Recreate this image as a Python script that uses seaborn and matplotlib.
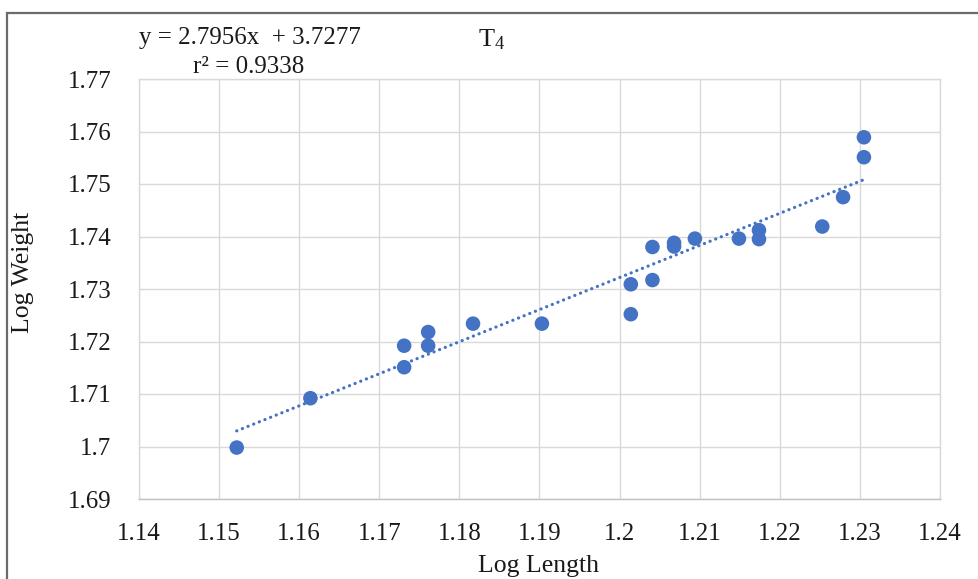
import numpy as np
import pandas as pd
import matplotlib
matplotlib.use("Agg")
import matplotlib.pyplot as plt
from matplotlib.patches import Rectangle
import seaborn as sns

# Log-transformed length / weight measurements (group T4)
log_length = [1.1522, 1.1614, 1.1731, 1.1731, 1.1761, 1.1761, 1.1817, 1.1903,
              1.2014, 1.2014, 1.2041, 1.2041, 1.2068, 1.2068, 1.2094, 1.2149,
              1.2174, 1.2174, 1.2253, 1.2279, 1.2305, 1.2305]
log_weight = [1.6998, 1.7092, 1.7192, 1.7151, 1.7218, 1.7192, 1.7234, 1.7234,
              1.7309, 1.7252, 1.7380, 1.7317, 1.7388, 1.7381, 1.7396, 1.7396,
              1.7412, 1.7395, 1.7419, 1.7475, 1.7589, 1.7551]

x_ticks = [1.14, 1.15, 1.16, 1.17, 1.18, 1.19, 1.20, 1.21, 1.22, 1.23, 1.24]
x_tick_labels = ["1.14", "1.15", "1.16", "1.17", "1.18", "1.19", "1.2", "1.21", "1.22", "1.23", "1.24"]
y_ticks = [1.69, 1.70, 1.71, 1.72, 1.73, 1.74, 1.75, 1.76, 1.77]
y_tick_labels = ["1.69", "1.7", "1.71", "1.72", "1.73", "1.74", "1.75", "1.76", "1.77"]

equation_text = "y = 2.7956x  + 3.7277"
r2_text = "r\u00b2 = 0.9338"
title_text = r"T$_{4}$"

df = pd.DataFrame({"Log Length": log_length, "Log Weight": log_weight})

sns.set_theme(style="whitegrid")
plt.rcParams["font.family"] = ["Liberation Serif", "DejaVu Serif"]
plt.rcParams["mathtext.fontset"] = "custom"
plt.rcParams["mathtext.rm"] = "Liberation Serif"
plt.rcParams["mathtext.it"] = "Liberation Serif"

W, H = 979, 579
fig = plt.figure(figsize=(W / 100, H / 100), dpi=100)
fig.patch.set_facecolor("white")
ax = fig.add_axes([139 / W, 1 - 499 / H, (940 - 139) / W, (499 - 79) / H])

blue = "#4472C4"
sns.regplot(data=df, x="Log Length", y="Log Weight", ax=ax, ci=None,
            scatter_kws=dict(s=110, color=blue, edgecolor="none", alpha=1, zorder=3),
            line_kws=dict(color=blue, lw=2.3, linestyle=(0, (0.05, 1.85)),
                          dash_capstyle="round", zorder=2))

ax.set_xlim(1.14, 1.24)
ax.set_ylim(1.69, 1.77)
ax.set_xticks(x_ticks)
ax.set_xticklabels(x_tick_labels)
ax.set_yticks(y_ticks)
ax.set_yticklabels(y_tick_labels)
ax.tick_params(axis="both", length=0, labelsize=18, colors="#1a1a1a")
ax.tick_params(axis="x", pad=17)
ax.tick_params(axis="y", pad=20)
ax.grid(True, color="#d9d9d9", lw=1.0)
ax.set_axisbelow(True)
for name, sp in ax.spines.items():
    sp.set_visible(True)
    sp.set_color("#d9d9d9")
    sp.set_linewidth(1.0)
ax.spines["bottom"].set_color("#bfbfbf")
ax.set_xlabel("")
ax.set_ylabel("")

fig.text(539 / W, 1 - 566 / H, "Log Length", ha="center", va="center",
         fontsize=18.5, color="#1a1a1a")
fig.text(23 / W, 1 - 272 / H, "Log Weight", ha="center", va="center",
         rotation=90, fontsize=18.5, color="#1a1a1a")
fig.text(250 / W, 1 - 38 / H, equation_text, ha="center", va="center",
         fontsize=18, color="#1a1a1a")
fig.text(249 / W, 1 - 67 / H, r2_text, ha="center", va="center",
         fontsize=18, color="#1a1a1a")
fig.text(492 / W, 1 - 40 / H, title_text, ha="center", va="center",
         fontsize=19, color="#1a1a1a")

# Chart-area frame running off the right and bottom edges
fig.add_artist(Rectangle((7 / W, -0.2), 1.2, 1 - 13 / H + 0.2,
                         transform=fig.transFigure, fill=False,
                         edgecolor="#6b6b6b", lw=1.6))

fig.savefig("out.png", dpi=100, facecolor="white")
